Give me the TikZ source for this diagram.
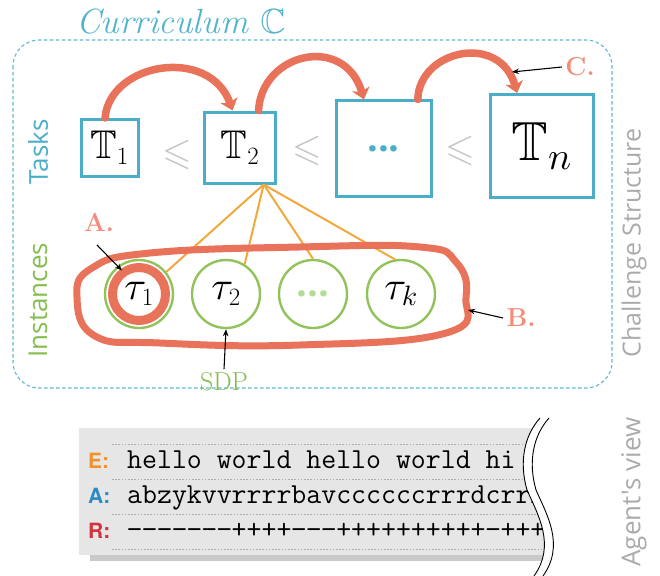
\documentclass[tikz,border=0pt]{standalone}
\usepackage{amssymb}
\usepackage{fontspec}
\newfontfamily\osans{Open Sans}
\newfontfamily\heros{TeX Gyre Heros}
% scalable math fonts
\DeclareFontFamily{OML}{cmm}{\skewchar\font127 }
\DeclareFontShape{OML}{cmm}{m}{it}{<-> cmmi10}{}
\DeclareFontFamily{OMS}{cmsy}{\skewchar\font48 }
\DeclareFontShape{OMS}{cmsy}{m}{n}{<-> cmsy10}{}
\DeclareFontFamily{U}{msb}{}
\DeclareFontShape{U}{msb}{m}{n}{<-> msbm10}{}
\DeclareFontFamily{U}{msa}{}
\DeclareFontShape{U}{msa}{m}{n}{<-> msam10}{}
\usetikzlibrary{arrows.meta,calc}

\definecolor{cteal}{HTML}{4BAEC8}
\definecolor{ctitle}{HTML}{52B4CC}
\definecolor{cframe}{HTML}{5DB8CF}
\definecolor{cgreen}{HTML}{92C35A}
\definecolor{cgreentxt}{HTML}{84BD4F}
\definecolor{cdots}{HTML}{B5DD92}
\definecolor{corange}{HTML}{F0A93A}
\definecolor{cbrush}{HTML}{E9735A}
\definecolor{clabel}{HTML}{F38C79}
\definecolor{cgray}{HTML}{C4C4C4}
\definecolor{cside}{HTML}{ABABAB}
\definecolor{cbox}{HTML}{E6E6E6}
\definecolor{cshadow}{HTML}{C9C9C9}
\definecolor{crule}{HTML}{ABABAB}
\definecolor{cE}{HTML}{F0932F}
\definecolor{cA}{HTML}{2D8AC4}
\definecolor{cR}{HTML}{D2333E}

% torn edge of the agent's view panel
\newcommand\wavecurve{.. controls (524,436) and (519,462) .. (527,490) .. controls (538,515) and (556,545) .. (534,576)}

\begin{document}
\begin{tikzpicture}[x=1pt,y=-1pt,
  taskbox/.style={draw=cteal, line width=3pt, inner sep=0pt, minimum size=#1, font=\fontsize{40}{40}\selectfont},
  instnode/.style={circle, draw=cgreen, line width=2.4pt, inner sep=0pt, minimum size=68pt, font=\fontsize{40}{40}\selectfont},
  lesym/.style={text=cgray, font=\fontsize{38}{38}\selectfont},
  fanline/.style={draw=corange, line width=2pt},
  brush/.style={draw=cbrush, line width=7.5pt, line cap=round, line join=round},
  brusharrow/.style={brush, -{Stealth[length=11pt,width=18pt,inset=3pt]}},
  pointer/.style={draw=black, line width=1.1pt, -{Stealth[length=7pt,width=5.5pt]}},
  marklabel/.style={text=clabel, font=\bfseries\fontsize{26}{26}\selectfont},
  sidelabel/.style={rotate=90, font=\osans\fontsize{26}{26}\selectfont},
  rowtag/.style={anchor=base west, inner sep=0pt, font=\heros\bfseries\fontsize{21}{21}\selectfont},
  rowtext/.style={anchor=base west, inner sep=0pt, font=\ttfamily\fontsize{29}{29}\selectfont},
  rowrule/.style={draw=crule, line width=0.8pt, dash pattern=on 1.6pt off 1.6pt},
]
\useasboundingbox (0,0) rectangle (660,575);

% title and curriculum frame
\node[text=ctitle, font=\itshape\fontsize{35}{35}\selectfont] (title) at (181,22) {Curriculum $\mathbb{C}$};
\draw[draw=cframe, line width=1.1pt, dash pattern=on 3.5pt off 2.5pt, rounded corners=26pt] (13,40) rectangle (612,388);

% side labels
\node[sidelabel, text=cteal] (lblTasks) at (38,152) {Tasks};
\node[sidelabel, text=cgreentxt] (lblInst) at (38,300) {Instances};
\node[sidelabel, text=cside, font=\osans\fontsize{25}{25}\selectfont] (lblChal) at (634,243) {Challenge Structure};
\node[sidelabel, text=cside] (lblView) at (634,492) {Agent's view};

% tasks
\node[taskbox=57pt] (t1) at (109.5,148) {$\mathbb{T}_1$};
\node[taskbox=71pt] (t2) at (240,147.5) {$\mathbb{T}_2$};
\node[taskbox=95pt, text=cteal, font=\osans\bfseries\fontsize{38}{38}\selectfont] (t3) at (383.5,148.5) {...};
\node[taskbox=103pt, font=\fontsize{55}{55}\selectfont] (tn) at (541.5,146) {$\mathbb{T}_n$};

\node[lesym] (le1) at (177,155) {$\leqslant$};
\node[lesym] (le2) at (307,151) {$\leqslant$};
\node[lesym] (le3) at (460,151) {$\leqslant$};

% instances
\node[instnode] (c1) at (139,294) {$\tau_1$};
\node[instnode] (c2) at (226,294) {$\tau_2$};
\node[instnode, text=cdots, font=\osans\bfseries\fontsize{38}{38}\selectfont] (c3) at (313,294) {...};
\node[instnode] (c4) at (401,294) {$\tau_k$};

\coordinate (fan) at ($(t2.south)!0.64!(t2.south east)$);
\foreach \n/\a in {c1/39, c2/58, c3/90, c4/100}
  \draw[fanline] (fan) -- (\n.\a);

% highlighted instance and instance group
\draw[brush, line width=9pt] (c1.center) circle[radius=26.5pt];
\draw[brush, line width=7pt] plot[smooth cycle, tension=0.75] coordinates
  {(77,297) (92,268) (150,253) (300,247) (420,247) (456,262) (466,297) (446,333) (300,345) (160,343) (95,336)};

% progression between tasks
\coordinate (s1) at ($(t1.north)+(-4.5,0)$);
\coordinate (e1) at ($(t2.north west)!0.4!(t2.north east)$);
\coordinate (s2) at ($(t2.north west)!0.75!(t2.north east)$);
\coordinate (e2) at ($(t3.north west)!0.3!(t3.north east)$);
\coordinate (s3) at ($(t3.north west)!0.85!(t3.north east)$);
\coordinate (e3) at ($(tn.north west)!0.27!(tn.north east)$);
\draw[brusharrow] (s1) .. controls (110,62) and (210,46) .. (e1);
\draw[brusharrow] (s2) .. controls (262,52) and (345,34) .. (e2);
\draw[brusharrow] (s3) .. controls (419,50) and (500,32) .. (e3);

% callouts
\node[marklabel] (lA) at (99,222) {A.};
\node[marklabel] (lB) at (521,318) {B.};
\node[marklabel] (lC) at (580,67) {C.};
\node[text=cgreentxt, font=\fontsize{26}{26}\selectfont] (sdp) at (224,382) {SDP};

\coordinate (aTail) at (97,245);
\coordinate (aTip) at ($(c1.center)+(126:29pt)$);
\coordinate (bTip) at (468,310);
\coordinate (cTip) at (512,72);
\draw[pointer] (aTail) -- (aTip);
\draw[pointer] (lB.west) -- (bTip);
\draw[pointer] (lC.west) -- (cTip);
\draw[pointer] (sdp.north) -- (c2.south);

% agent's view panel
\begin{scope}
  \clip (0,405) -- (540,405) -- (540,418) \wavecurve -- (0,576) -- cycle;
  \fill[cshadow] (90,550) rectangle (600,561);
  \fill[cbox] (79,428) rectangle (600,555);
  \foreach \y in {444,479,514,549}
    \draw[rowrule] (112,\y) -- (600,\y);
  \node[rowtext] (rowE) at (127,468) {hello world hello world hi};
  \node[rowtext] (rowA) at (127,503) {abzykvvrrrrbavccccccrrrdcrrr};
  \node[rowtext] (rowR) at (127,538) {−−−−−−−++++−−−++++++++++−+++++};
\end{scope}
\draw[line width=0.9pt] (540,418) \wavecurve;
\draw[line width=0.9pt, xshift=9pt] (540,418) \wavecurve;

\node[rowtag, text=cE] (tagE) at (88,468) {E:};
\node[rowtag, text=cA] (tagA) at (88,503) {A:};
\node[rowtag, text=cR] (tagR) at (88,538) {R:};
\end{tikzpicture}
\end{document}
